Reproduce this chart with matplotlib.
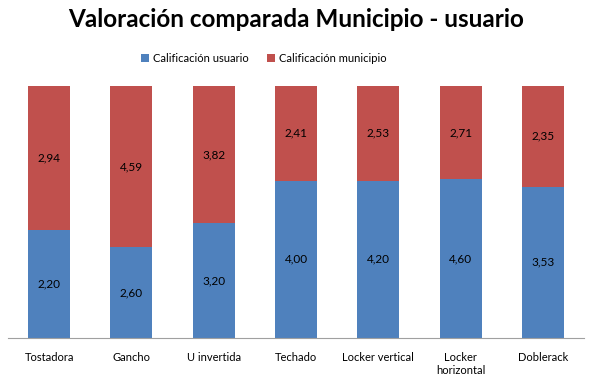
import numpy as np
from matplotlib import pyplot as plt

# Data
categorias = ['Tostadora', 'Gancho', 'U invertida', 'Techado', 'Locker vertical',
              'Locker\nhorizontal', 'Doblerack']
usuario = np.array([2.20, 2.60, 3.20, 4.00, 4.20, 4.60, 3.53])
municipio = np.array([2.94, 4.59, 3.82, 2.41, 2.53, 2.71, 2.35])

plt.rcParams['font.family'] = ['Lato', 'DejaVu Sans']

total = usuario + municipio
p_usr = usuario / total
p_mun = municipio / total

fig = plt.figure(figsize=(5.92, 3.83), dpi=100)
ax = fig.add_axes([0.0135, 0.1175, 0.973, 0.658])

x = np.arange(len(categorias))
w = 0.51
ax.bar(x, p_usr, w, color='#4F81BD', label='Calificación usuario')
ax.bar(x, p_mun, w, bottom=p_usr, color='#C0504D', label='Calificación municipio')

for i in range(len(x)):
    ax.text(x[i], p_usr[i] / 2, f'{usuario[i]:.2f}'.replace('.', ','),
            ha='center', va='center', fontsize=8.5)
    ax.text(x[i], p_usr[i] + p_mun[i] / 2, f'{municipio[i]:.2f}'.replace('.', ','),
            ha='center', va='center', fontsize=8.5)

ax.set_xlim(-0.5, len(x) - 0.5)
ax.set_ylim(0, 1)
ax.set_yticks([])
ax.set_xticks(x)
ax.set_xticklabels(categorias, fontsize=8, va='top')
ax.tick_params(axis='x', length=0, pad=10)
for s in ['top', 'right', 'left']:
    ax.spines[s].set_visible(False)
ax.spines['bottom'].set_color('#A0A0A0')

fig.suptitle('Valoración comparada Municipio - usuario', fontsize=17.5,
             fontweight='bold', y=0.978)
fig.legend(loc='center', bbox_to_anchor=(0.446, 0.848), ncol=2, frameon=False,
           fontsize=8, handlelength=0.7, handleheight=0.7, columnspacing=1.6,
           handletextpad=0.4)

fig.savefig('out.png', dpi=100)
